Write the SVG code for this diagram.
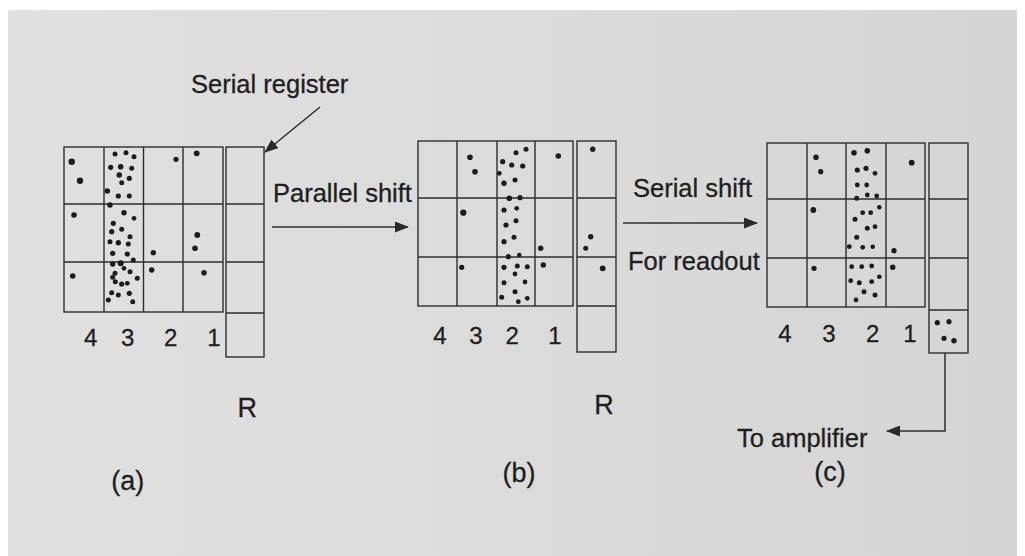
<svg xmlns="http://www.w3.org/2000/svg" width="1025" height="556" viewBox="0 0 1025 556">
  <defs>
    <linearGradient id="paper" x1="0" y1="0" x2="1" y2="0">
      <stop offset="0" stop-color="#e0e0e0"/>
      <stop offset="0.5" stop-color="#dbdbdb"/>
      <stop offset="1" stop-color="#d5d5d5"/>
    </linearGradient>
    <marker id="head" viewBox="0 0 14 11" refX="13" refY="5.5" markerWidth="14" markerHeight="11" markerUnits="userSpaceOnUse" orient="auto">
      <path d="M0,0 L14,5.5 L0,11 Z" fill="#2a2a2a"/>
    </marker>
    <style>
      .grid { fill: none; stroke: #2e2e2e; stroke-width: 1.4; }
      .wire { fill: none; stroke: #2e2e2e; stroke-width: 1.5; }
      .dot { fill: #1c1c1c; }
      .lbl { font-family: "Liberation Sans", Arial, sans-serif; fill: #1e1e1e; stroke: #1e1e1e; stroke-width: 0.3; }
      .big { font-size: 25.5px; }
      .num { font-size: 24px; text-anchor: middle; }
      .tag { font-size: 27px; text-anchor: middle; }
    </style>
  </defs>

  <!-- paper -->
  <rect x="0" y="0" width="1025" height="556" fill="#ffffff"/>
  <rect x="8" y="10" width="1009" height="546" fill="url(#paper)"/>

  <!-- panel (a): imaging area before the shift -->
  <g id="panel-a">
    <rect class="grid" x="64" y="147" width="159" height="165"/>
    <path class="grid" d="M104,147 V312 M143.5,147 V312 M183,147 V312 M64,204 H223 M64,262 H223"/>
    <g id="register-a">
      <rect class="grid" x="226" y="147" width="38" height="210"/>
      <path class="grid" d="M226,204 H264 M226,262 H264 M226,313 H264"/>
    </g>
    <g class="dot">
      <circle cx="71.7" cy="161.7" r="3.2"/><circle cx="80" cy="180.7" r="3.2"/>
      <circle cx="74" cy="215" r="2.8"/><circle cx="72.7" cy="276" r="2.8"/>
      <circle cx="115" cy="154" r="2.5"/><circle cx="126" cy="152.7" r="2.5"/><circle cx="134" cy="156.7" r="2.5"/>
      <circle cx="110.7" cy="167.3" r="2.6"/><circle cx="120.7" cy="166.7" r="2.8"/><circle cx="131.7" cy="168.3" r="2.5"/>
      <circle cx="119.3" cy="175" r="2.8"/><circle cx="129.3" cy="178.3" r="2.6"/><circle cx="121.7" cy="182.7" r="2.5"/>
      <circle cx="107.3" cy="191" r="2.8"/><circle cx="118.3" cy="196" r="2.6"/><circle cx="129.3" cy="196" r="2.5"/>
      <circle cx="110" cy="205" r="2.7"/>
      <circle cx="124" cy="212.7" r="2.7"/><circle cx="134" cy="218.3" r="2.4"/><circle cx="113.3" cy="223.3" r="2.6"/>
      <circle cx="121.7" cy="229.3" r="2.5"/><circle cx="111.7" cy="231.7" r="2.6"/><circle cx="130" cy="236.7" r="2.5"/>
      <circle cx="110" cy="241.7" r="2.5"/><circle cx="118.3" cy="242.7" r="2.7"/><circle cx="128.3" cy="244" r="2.5"/>
      <circle cx="112.7" cy="253.3" r="2.6"/><circle cx="127.3" cy="254" r="2.6"/><circle cx="133.3" cy="260" r="2.5"/>
      <circle cx="120.7" cy="263.3" r="3"/><circle cx="112.7" cy="264" r="2.7"/>
      <circle cx="124" cy="268.3" r="2.4"/><circle cx="115" cy="273.3" r="2.5"/><circle cx="130" cy="271.7" r="2.5"/>
      <circle cx="112.7" cy="277.3" r="2.5"/><circle cx="137.3" cy="278.3" r="2.5"/><circle cx="115.3" cy="281.7" r="2.5"/>
      <circle cx="121.7" cy="284" r="2.6"/><circle cx="127.3" cy="283.3" r="2.4"/>
      <circle cx="111.7" cy="292.7" r="2.5"/><circle cx="129.3" cy="293.3" r="2.6"/><circle cx="118.3" cy="295" r="2.5"/>
      <circle cx="108.3" cy="300" r="2.5"/><circle cx="132.7" cy="301.7" r="2.5"/>
      <circle cx="176" cy="159.3" r="2.6"/><circle cx="153.3" cy="252.7" r="2.7"/><circle cx="151.7" cy="270" r="2.7"/>
      <circle cx="196.7" cy="153.3" r="2.9"/><circle cx="197.3" cy="235" r="2.9"/><circle cx="195" cy="248.3" r="2.8"/>
      <circle cx="204" cy="272.7" r="2.8"/>
    </g>
    <text class="lbl num" x="90.7" y="346">4</text>
    <text class="lbl num" x="127.7" y="346">3</text>
    <text class="lbl num" x="170.7" y="346">2</text>
    <text class="lbl num" x="214" y="346">1</text>
    <text class="lbl tag" x="247.3" y="417">R</text>
    <text class="lbl tag" x="127.7" y="490">(a)</text>
  </g>

  <!-- panel (b): after one parallel shift -->
  <g id="panel-b">
    <rect class="grid" x="418" y="141" width="155" height="165"/>
    <path class="grid" d="M457,141 V306 M497,141 V306 M535,141 V306 M418,198 H573 M418,257 H573"/>
    <g id="register-b">
      <rect class="grid" x="577" y="141" width="39" height="211"/>
      <path class="grid" d="M577,198 H616 M577,257 H616 M577,306 H616"/>
    </g>
    <g class="dot">
      <circle cx="470" cy="157.3" r="2.8"/><circle cx="475" cy="171.7" r="2.8"/>
      <circle cx="463.3" cy="212.7" r="3.1"/><circle cx="461.7" cy="267.3" r="2.6"/>
      <circle cx="516" cy="152.7" r="2.5"/><circle cx="526" cy="149.3" r="2.5"/><circle cx="502.7" cy="161.7" r="2.6"/>
      <circle cx="511.7" cy="165" r="2.6"/><circle cx="522.7" cy="166" r="2.6"/><circle cx="499.3" cy="173.3" r="2.4"/>
      <circle cx="504" cy="183.3" r="2.7"/><circle cx="515" cy="180" r="2.5"/>
      <circle cx="509.3" cy="198.3" r="2.8"/><circle cx="520" cy="197.7" r="2.6"/>
      <circle cx="504" cy="210" r="2.6"/><circle cx="516.7" cy="208.3" r="2.4"/><circle cx="506" cy="225" r="2.6"/>
      <circle cx="516" cy="220.7" r="2.5"/><circle cx="504" cy="241.7" r="2.6"/><circle cx="514" cy="237.3" r="2.5"/>
      <circle cx="508.3" cy="256.7" r="2.6"/><circle cx="519.3" cy="255" r="2.3"/>
      <circle cx="504" cy="267.3" r="2.6"/><circle cx="517.3" cy="266" r="2.5"/><circle cx="527.3" cy="266.7" r="2.5"/>
      <circle cx="515" cy="274" r="2.4"/><circle cx="525" cy="282" r="2.4"/><circle cx="504" cy="282.7" r="2.5"/>
      <circle cx="515" cy="291.7" r="2.5"/><circle cx="501.7" cy="297.3" r="2.5"/><circle cx="527.3" cy="298.3" r="2.4"/>
      <circle cx="518.3" cy="301.7" r="2.4"/>
      <circle cx="558.3" cy="156" r="2.8"/><circle cx="540.7" cy="248.3" r="2.7"/><circle cx="543.3" cy="265" r="2.7"/>
      <circle cx="592.7" cy="149.3" r="2.7"/><circle cx="590.7" cy="236.7" r="2.7"/><circle cx="585.7" cy="248.3" r="2.5"/>
      <circle cx="602.7" cy="268.3" r="2.9"/>
    </g>
    <text class="lbl num" x="440" y="344">4</text>
    <text class="lbl num" x="476" y="344">3</text>
    <text class="lbl num" x="512.3" y="344">2</text>
    <text class="lbl num" x="555" y="344">1</text>
    <text class="lbl tag" x="604" y="414">R</text>
    <text class="lbl tag" x="519" y="482">(b)</text>
  </g>

  <!-- panel (c): serial register clocked out -->
  <g id="panel-c">
    <rect class="grid" x="767" y="143" width="158" height="164"/>
    <path class="grid" d="M807,143 V307 M846,143 V307 M886,143 V307 M767,199 H925 M767,258 H925"/>
    <g id="register-c">
      <rect class="grid" x="929" y="143" width="39" height="210"/>
      <path class="grid" d="M929,199 H968 M929,258 H968 M929,310 H968"/>
    </g>
    <g class="dot">
      <circle cx="816" cy="157.3" r="2.8"/><circle cx="820.7" cy="171.7" r="2.6"/>
      <circle cx="813.3" cy="210" r="2.9"/><circle cx="814" cy="268.3" r="2.6"/>
      <circle cx="854" cy="152.7" r="2.8"/><circle cx="867.3" cy="150.7" r="2.8"/><circle cx="857.3" cy="170" r="2.6"/>
      <circle cx="866" cy="168.3" r="2.6"/><circle cx="875" cy="173.3" r="2.4"/><circle cx="857.3" cy="185" r="2.4"/>
      <circle cx="866.7" cy="185" r="2.4"/><circle cx="856.7" cy="198.3" r="2.5"/><circle cx="867.3" cy="195" r="2.4"/>
      <circle cx="876.7" cy="196" r="2.4"/>
      <circle cx="879.3" cy="207.3" r="2.3"/><circle cx="862.7" cy="212.7" r="2.4"/><circle cx="870.7" cy="212.7" r="2.4"/>
      <circle cx="855" cy="219.3" r="2.5"/><circle cx="867.3" cy="228.3" r="2.5"/><circle cx="875" cy="226.7" r="2.4"/>
      <circle cx="856.7" cy="237.3" r="2.5"/><circle cx="849.3" cy="246.7" r="2.4"/><circle cx="862.7" cy="247.3" r="2.4"/>
      <circle cx="872.7" cy="246.7" r="2.3"/>
      <circle cx="851.7" cy="266.7" r="2.4"/><circle cx="861.7" cy="266.7" r="2.4"/><circle cx="871.7" cy="266" r="2.4"/>
      <circle cx="850.7" cy="280.7" r="2.4"/><circle cx="859.3" cy="282.7" r="2.5"/><circle cx="871.7" cy="281.7" r="2.4"/>
      <circle cx="879.3" cy="276.7" r="2.3"/><circle cx="864" cy="291.7" r="2.5"/><circle cx="875" cy="295" r="2.5"/>
      <circle cx="856" cy="300" r="2.4"/>
      <circle cx="911.7" cy="162.7" r="2.9"/><circle cx="894" cy="250.7" r="2.6"/><circle cx="892.7" cy="267.3" r="2.7"/>
      <circle cx="937.3" cy="322.7" r="2.6"/><circle cx="949" cy="321.7" r="2.6"/><circle cx="944" cy="338.3" r="2.6"/>
      <circle cx="954" cy="340.7" r="2.7"/>
    </g>
    <text class="lbl num" x="785" y="342">4</text>
    <text class="lbl num" x="829" y="342">3</text>
    <text class="lbl num" x="872.7" y="342">2</text>
    <text class="lbl num" x="910" y="342">1</text>
    <text class="lbl tag" x="830" y="481">(c)</text>
  </g>

  <!-- connectors -->
  <g id="connectors">
    <line class="wire" x1="320" y1="107" x2="265" y2="152" marker-end="url(#head)"/>
    <line class="wire" x1="272" y1="227" x2="408" y2="227" marker-end="url(#head)"/>
    <line class="wire" x1="623" y1="223" x2="757" y2="223" marker-end="url(#head)"/>
    <path class="wire" d="M945,353 V431 H887" marker-end="url(#head)"/>
  </g>

  <!-- captions -->
  <g id="captions">
    <text class="lbl big" x="191" y="93">Serial register</text>
    <text class="lbl big" x="273" y="202">Parallel shift</text>
    <text class="lbl big" x="633" y="197">Serial shift</text>
    <text class="lbl big" x="628" y="270">For readout</text>
    <text class="lbl big" x="737" y="447">To amplifier</text>
  </g>
</svg>
